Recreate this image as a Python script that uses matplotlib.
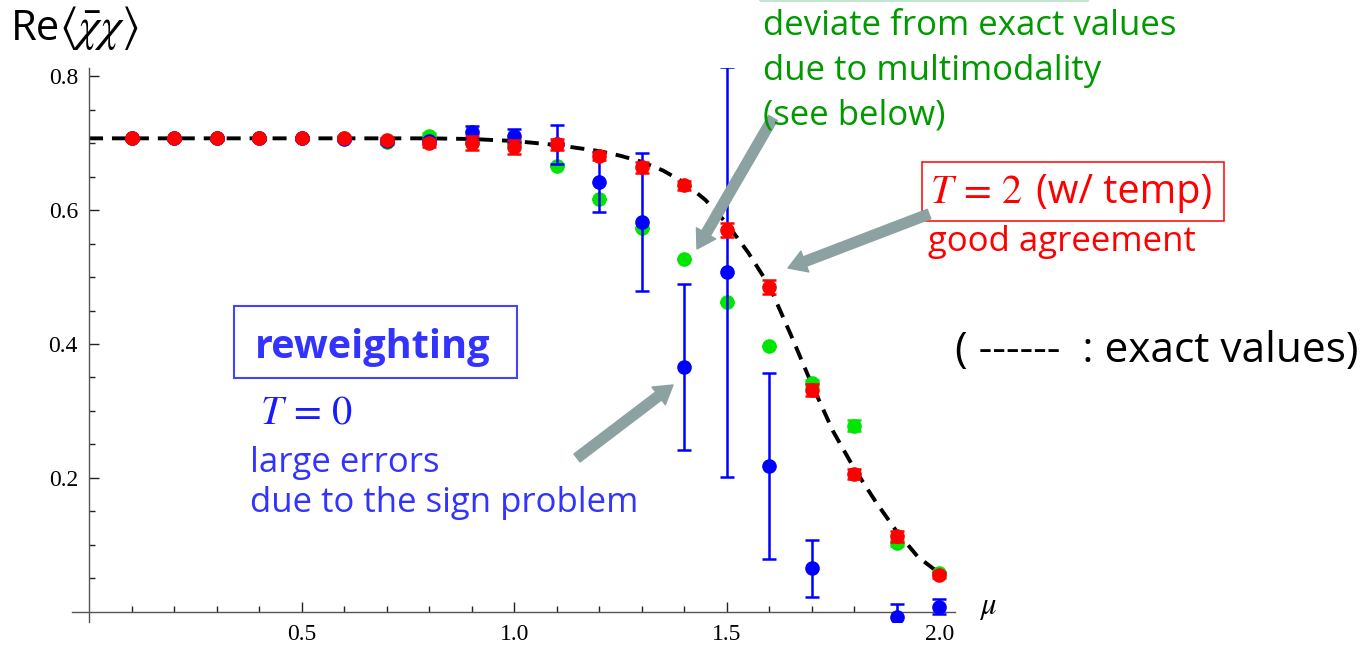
import numpy as np
import matplotlib
matplotlib.use("Agg")
from matplotlib import pyplot as plt
from matplotlib import patches

# exact values (dashed curve)
mu_exact = [0.0, 0.1, 0.2, 0.3, 0.4, 0.5, 0.6, 0.7, 0.8, 0.9, 1.0, 1.1, 1.2, 1.25, 1.3,
            1.35, 1.4, 1.45, 1.5, 1.55, 1.6, 1.65, 1.7, 1.75, 1.8, 1.85, 1.9, 1.95, 2.0]
val_exact = [0.707, 0.707, 0.707, 0.707, 0.707, 0.707, 0.707, 0.707, 0.707, 0.706, 0.703,
             0.697, 0.688, 0.681, 0.672, 0.659, 0.641, 0.615, 0.580, 0.537, 0.487, 0.415,
             0.340, 0.270, 0.214, 0.165, 0.120, 0.082, 0.058]

mu = [0.1, 0.2, 0.3, 0.4, 0.5, 0.6, 0.7, 0.8, 0.9, 1.0,
      1.1, 1.2, 1.3, 1.4, 1.5, 1.6, 1.7, 1.8, 1.9, 2.0]

# green: multimodal results
green_val = [0.707, 0.707, 0.707, 0.707, 0.707, 0.707, 0.702, 0.711, 0.700, 0.700,
             0.666, 0.616, 0.573, 0.527, 0.463, 0.397, 0.342, 0.278, 0.103, 0.058]
green_err = [0.0, 0.0, 0.0, 0.0, 0.0, 0.0, 0.0, 0.004, 0.0, 0.0,
             0.0, 0.0, 0.0, 0.0, 0.0, 0.0, 0.004, 0.008, 0.004, 0.0]

# blue: reweighting, T = 0
blue_val = [0.707, 0.707, 0.707, 0.707, 0.707, 0.706, 0.703, 0.703, 0.716, 0.711,
            0.698, 0.642, 0.582, 0.366, 0.507, 0.218, 0.065, np.nan, -0.007, 0.008]
blue_err = [0.002, 0.002, 0.002, 0.002, 0.002, 0.003, 0.004, 0.005, 0.009, 0.010,
            0.029, 0.045, 0.103, 0.124, 0.306, 0.139, 0.042, np.nan, 0.019, 0.011]

# red: T = 2 (with tempering)
red_val = [0.707, 0.707, 0.707, 0.707, 0.707, 0.708, 0.704, 0.700, 0.700, 0.694,
           0.698, 0.680, 0.664, 0.637, 0.570, 0.485, 0.331, 0.206, 0.113, 0.055]
red_err = [0.002, 0.002, 0.002, 0.002, 0.002, 0.003, 0.004, 0.006, 0.010, 0.010,
           0.008, 0.006, 0.008, 0.007, 0.010, 0.010, 0.009, 0.007, 0.008, 0.004]

W, H = 1366, 648
plt.rcParams['font.family'] = ['Liberation Serif', 'DejaVu Serif']
plt.rcParams['mathtext.fontset'] = 'stix'

fig = plt.figure(figsize=(W / 100, H / 100), dpi=100)
ax = fig.add_axes([72 / W, 1 - 622 / H, 883 / W, 554 / H])
ax.set_xlim(-0.04, 2.037)
ax.set_ylim(-0.015, 0.812)

ax.plot(mu_exact, val_exact, color="k", lw=2.8, dashes=(3.6, 2.3), zorder=1)
ax.errorbar(mu, green_val, yerr=green_err, fmt="o", color="#00e600", ms=9.5,
            elinewidth=1.8, capsize=5, capthick=1.8, zorder=2)
ax.errorbar(mu, blue_val, yerr=blue_err, fmt="o", color="#0000ff", ms=9.5,
            elinewidth=1.8, capsize=5, capthick=1.8, zorder=3)
ax.errorbar(mu, red_val, yerr=red_err, fmt="o", color="#ff0000", ms=9.5,
            elinewidth=1.8, capsize=5, capthick=1.8, zorder=4)

# Mathematica-style axes through origin
for s in ["top", "right"]:
    ax.spines[s].set_visible(False)
ax.spines["left"].set_position(("data", 0))
ax.spines["bottom"].set_position(("data", 0))
for s in ["left", "bottom"]:
    ax.spines[s].set_color("#555555")
    ax.spines[s].set_linewidth(1.0)
ax.set_xticks([0.5, 1.0, 1.5, 2.0])
ax.set_xticks(np.arange(0.1, 2.01, 0.1), minor=True)
ax.set_yticks([0.2, 0.4, 0.6, 0.8])
ax.set_yticks(np.arange(0.05, 0.81, 0.05), minor=True)
ax.tick_params(which="both", direction="in", color="#222222", width=1.0)
ax.tick_params(which="major", length=7, labelsize=17)
ax.tick_params(which="minor", length=4.5)
ax.tick_params(axis="x", pad=9)
ax.tick_params(axis="y", pad=8)
ax.patch.set_alpha(0)


def px(x, y):
    return (x / W, 1 - y / H)


sans = ["Open Sans", "DejaVu Sans"]
green = "#009a00"
blue = "#3333ff"
red = "#ff0000"
fs = 25

fig.text(*px(11, 40), "Re", family=sans, fontsize=30, va="baseline")
fig.text(*px(59, 40), r"$\langle\bar{\chi}\chi\rangle$", fontsize=34, va="baseline")
fig.text(*px(979, 614), r"$\mu$", fontsize=22, va="baseline")

# green comment
fig.add_artist(patches.Rectangle(px(760, 1), 328 / W, 30 / H, transform=fig.transFigure,
                                 fill=False, ec="#b8e2c8", lw=1.2, clip_on=False))
for t, yb in [("deviate from exact values", 35), ("due to multimodality", 80), ("(see below)", 124)]:
    fig.text(*px(763, yb), t, family=sans, fontsize=fs, color=green, va="baseline")

# red comment
fig.add_artist(patches.Rectangle(px(922, 221), 302 / W, 59 / H, transform=fig.transFigure,
                                 fill=False, ec=red, lw=1.1))
fig.text(*px(930, 203), r"$T\,=\,2$", fontsize=29, color=red, va="baseline")
fig.text(*px(1036, 203), "(w/ temp)", family=sans, fontsize=28.5, color=red, va="baseline")
fig.text(*px(928, 251), "good agreement", family=sans, fontsize=fs, color=red, va="baseline")

fig.text(*px(955, 362), "( ------  : exact values)", family=sans, fontsize=30.5, color="k", va="baseline")

# blue comment
fig.add_artist(patches.Rectangle(px(234, 378), 283 / W, 72 / H, transform=fig.transFigure,
                                 fill=False, ec="#4444ff", lw=1.5))
fig.text(*px(255, 358), "reweighting", family=sans, fontsize=28.5, color=blue,
         weight="bold", va="baseline")
fig.text(*px(260, 423), r"$T\,=\,0$", fontsize=29, color="#1a1aff", va="baseline")
fig.text(*px(250, 472), "large errors", family=sans, fontsize=fs, color=blue, va="baseline")
fig.text(*px(250, 512), "due to the sign problem", family=sans, fontsize=fs, color=blue, va="baseline")

# arrows
for (x0, y0), (x1, y1) in [((577, 458), (673, 385)),
                           ((773, 118), (697, 249)),
                           ((929, 214), (788, 268))]:
    fig.add_artist(patches.FancyArrowPatch(px(x0, y0), px(x1, y1), transform=fig.transFigure,
                                           arrowstyle="simple,head_width=1.6,head_length=1.3,tail_width=0.72",
                                           mutation_scale=10, color="#8ca2a2", shrinkA=0, shrinkB=0))

fig.savefig("out.png", dpi=100)
